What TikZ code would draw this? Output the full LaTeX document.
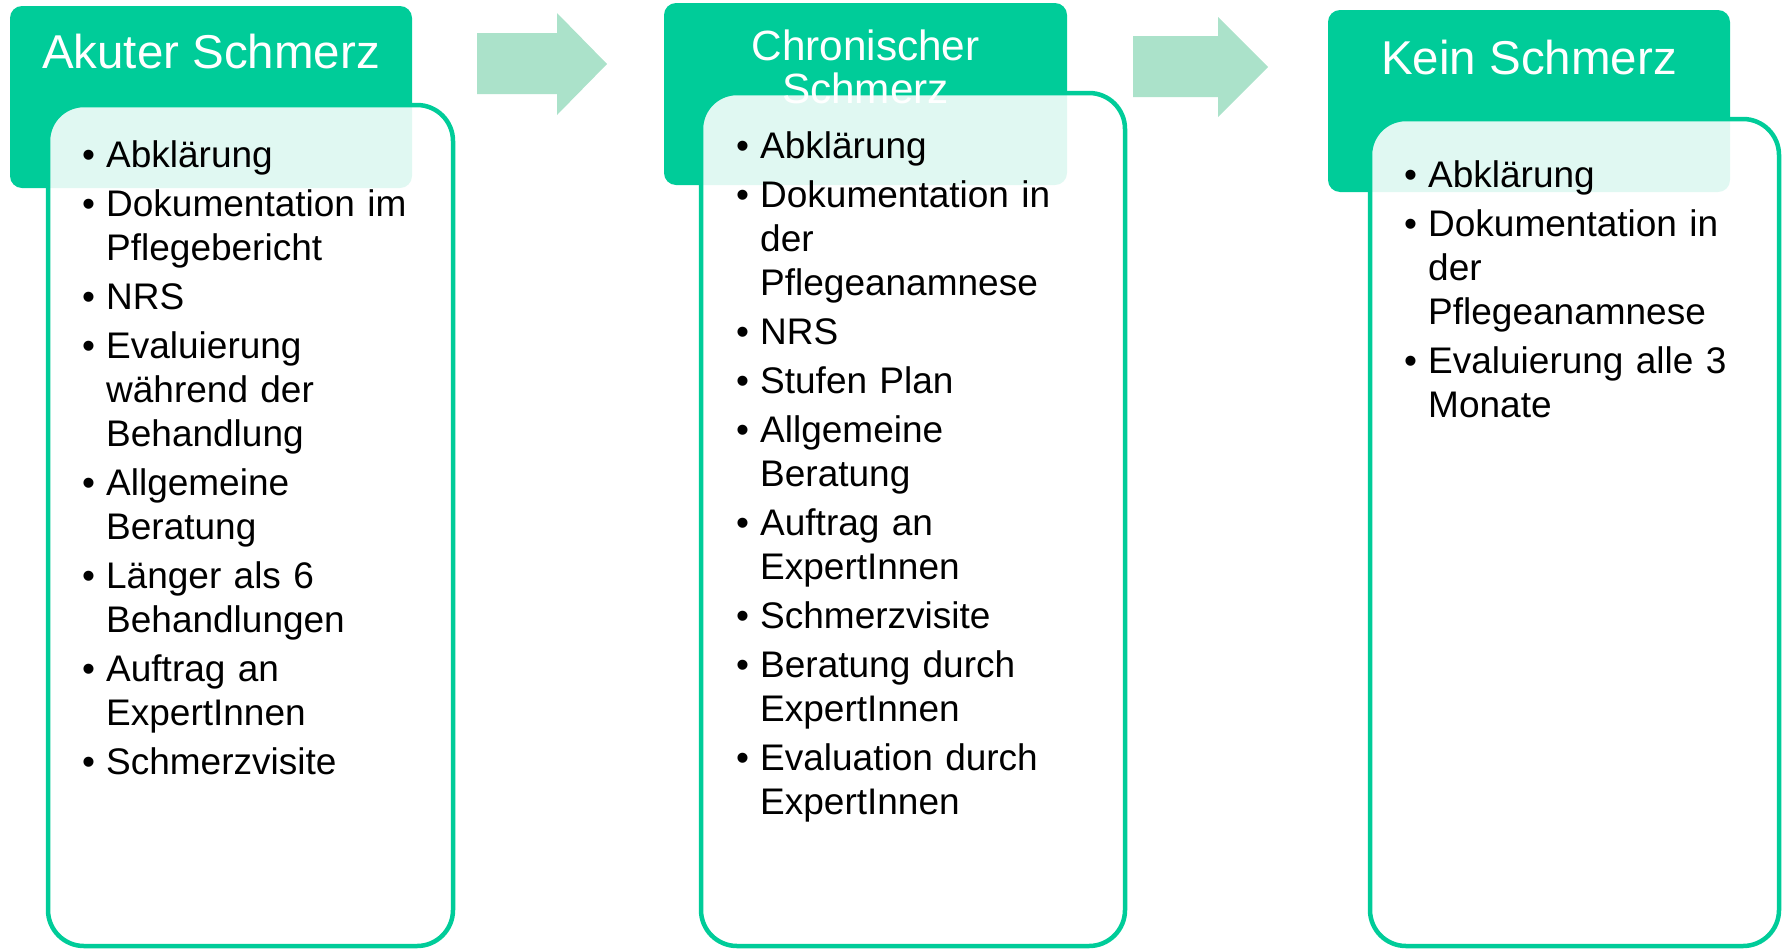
\documentclass[tikz,border=0pt]{standalone}
\usepackage{fontspec}
\setmainfont{Liberation Sans}
\usetikzlibrary{positioning}

\definecolor{headgreen}{RGB}{0,204,153}
\definecolor{flowgreen}{RGB}{171,226,202}

\newcommand{\bul}[1]{\noindent\hangindent=24pt\hangafter=1\makebox[24pt][l]{\textbullet}#1\par}

\begin{document}
\begin{tikzpicture}[x=1pt, y=-1pt,
    head/.style={fill=headgreen, rounded corners=12pt, inner sep=0pt, outer sep=0pt, anchor=north west},
    card/.style={draw=headgreen, line width=4.5pt, fill=white, fill opacity=0.88, rounded corners=36pt, inner sep=0pt, outer sep=0pt, anchor=north west},
    title/.style={text=white, font=\fontsize{47.5}{52}\selectfont, anchor=base, align=center},
    items/.style={anchor=base west, inner sep=0pt, text width=360pt, align=left,
        font=\fontsize{37}{44}\selectfont,
        execute at begin node={\setlength{\parskip}{5pt}\setlength{\parindent}{0pt}}},
    flow/.style={fill=flowgreen}]
        \useasboundingbox (0,0) rectangle (1785,951);

        % Define nodes
        \node[head, minimum width=402pt, minimum height=182pt] (h1) at (10,6) {};
        \node[head, minimum width=403pt, minimum height=182pt] (h2) at (664,3) {};
        \node[head, minimum width=402pt, minimum height=182pt] (h3) at (1328,10) {};

        \node[card, minimum width=405pt, minimum height=841pt] (c1) at (48,105) {};
        \node[card, minimum width=424pt, minimum height=853pt] (c2) at (701,93) {};
        \node[card, minimum width=409pt, minimum height=827pt] (c3) at (1370,119) {};

        % Arrows between the columns
        \fill[flow] (477,33) -- (557,33) -- (557,13) -- (607,64) -- (557,115) -- (557,94) -- (477,94) -- cycle;
        \fill[flow] (1133,36) -- (1218,36) -- (1218,17) -- (1268,67) -- (1218,117) -- (1218,97) -- (1133,97) -- cycle;

        % Titles
        \node[title] (t1) at (211,68) {Akuter Schmerz};
        \node[title, font=\fontsize{42.3}{43}\selectfont] (t2) at (865.5,103) {Chronischer\\Schmerz};
        \node[title] (t3) at (1529,74) {Kein Schmerz};

        % Lists
        \node[items] (l1) at (82,167) {%
            \bul{Abklärung}
            \bul{Dokumentation im\newline Pflegebericht}
            \bul{NRS}
            \bul{Evaluierung\newline während der\newline Behandlung}
            \bul{Allgemeine\newline Beratung}
            \bul{Länger als 6\newline Behandlungen}
            \bul{Auftrag an\newline ExpertInnen}
            \bul{Schmerzvisite}};
        \node[items] (l2) at (736,158) {%
            \bul{Abklärung}
            \bul{Dokumentation in\newline der\newline Pflegeanamnese}
            \bul{NRS}
            \bul{Stufen Plan}
            \bul{Allgemeine\newline Beratung}
            \bul{Auftrag an\newline ExpertInnen}
            \bul{Schmerzvisite}
            \bul{Beratung durch\newline ExpertInnen}
            \bul{Evaluation durch\newline ExpertInnen}};
        \node[items] (l3) at (1404,187) {%
            \bul{Abklärung}
            \bul{Dokumentation in\newline der\newline Pflegeanamnese}
            \bul{Evaluierung alle 3\newline Monate}};

    \end{tikzpicture}
\end{document}
